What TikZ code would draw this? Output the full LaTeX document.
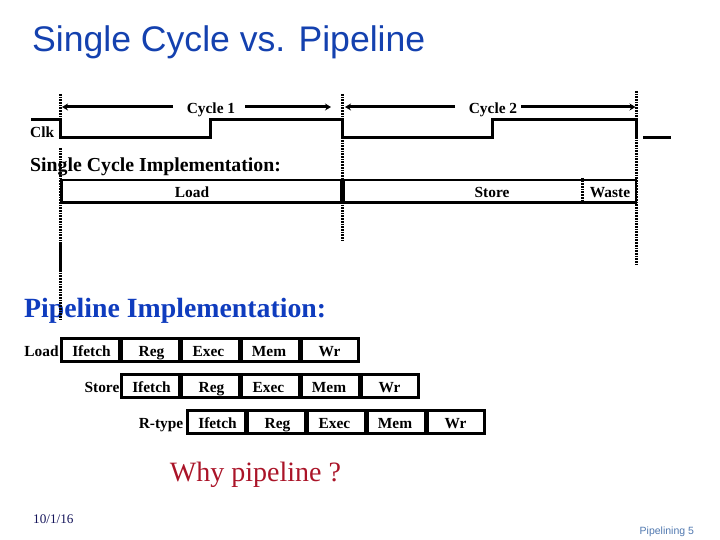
\documentclass[tikz,border=0pt]{standalone}
\usepackage{fontspec}
\setmainfont{Liberation Serif}
\newfontfamily\sansf{Liberation Sans}
\usetikzlibrary{arrows.meta}
\definecolor{titleblue}{RGB}{20,65,175}
\definecolor{pipeblue}{RGB}{15,60,190}
\definecolor{whyred}{RGB}{170,20,40}
\definecolor{footblue}{RGB}{80,120,175}
\definecolor{datenavy}{RGB}{20,20,90}
\tikzset{
  x=1bp,y=-1bp,
  lbl/.style={inner sep=0pt,anchor=base,font=\fontsize{15.4bp}{18bp}\selectfont\bfseries},
  sig/.style={line width=2.7bp,line join=miter},
  vdash/.style={line width=2.8bp,dash pattern=on 1.7bp off 1bp},
  cyc/.style={line width=3bp,-{Stealth[length=6bp,width=7bp]}},
  frame/.style={line width=3.4bp,draw,fill=none},
  divl/.style={line width=4.5bp},
}
\begin{document}
\begin{tikzpicture}
\useasboundingbox (0,0) rectangle (720,540);
% title
\node[inner sep=0pt,anchor=base west,text=titleblue,font=\sansf\fontsize{35.6bp}{38bp}\selectfont] (title) at (32,52) {Single Cycle vs. Pipeline};
% cycle labels
\node[lbl] (c1) at (211,114) {Cycle 1};
\node[lbl] (c2) at (493,114) {Cycle 2};
\coordinate (a1) at (62,107); \coordinate (a2) at (331,107);
\coordinate (a3) at (345,107); \coordinate (a4) at (635.5,107);
\coordinate (b1) at (173,107); \coordinate (b2) at (245,107);
\coordinate (b3) at (455,107); \coordinate (b4) at (521,107);
\draw[cyc] (b1) -- (a1);
\draw[cyc] (b2) -- (a2);
\draw[cyc] (b3) -- (a3);
\draw[cyc] (b4) -- (a4);
% clock
\node[lbl,anchor=base west] (clk) at (30,138) {Clk};
\coordinate (k0) at (31,119.5);
\draw[sig] (k0) -- (60.5,119.5) -- (60.5,137.3) -- (210.5,137.3) -- (210.5,119.5) -- (342.5,119.5) -- (342.5,137.3) -- (492.5,137.3) -- (492.5,119.5) -- (636.5,119.5) -- (636.5,137.3);
\coordinate (k1) at (643,137.5); \coordinate (k2) at (671,137.5);
\draw[sig] (k1)--(k2);
% single cycle
\node[inner sep=0pt,anchor=base west,font=\fontsize{19.8bp}{22bp}\selectfont\bfseries] (sc) at (30,172) {Single Cycle Implementation:};
\draw[line width=2.7bp] (61.5,180) rectangle (636,202.3);
\draw[line width=4.5bp] (342.5,180)--(342.5,202);
\draw[vdash] (582.5,178)--(582.5,204);
\node[lbl] (load) at (192,198) {Load};
\node[lbl] (store) at (492,198) {Store};
\node[lbl] (waste) at (610,198) {Waste};
% pipeline
\node[inner sep=0pt,anchor=base west,text=pipeblue,font=\fontsize{27.8bp}{30bp}\selectfont\bfseries] (pi) at (24,317) {Pipeline Implementation:};
\foreach \row/\xo/\yo/\nm/\nx in {1/61.7/338.7/Load/41.5, 2/121.7/374.7/Store/102, 3/187.7/410.7/R-type/161}{
  \draw[frame] (\xo,\yo) rectangle ++(297,22.6);
  \foreach \i in {1,2,3,4}{\draw[divl] (\xo+60*\i-1.2,\yo) -- ++(0,22.6);}
  \node[lbl] (n\row) at (\nx,\yo+17.3) {\nm};
  \node[lbl] (s1\row) at (\xo+29.8,\yo+17.3) {Ifetch};
  \node[lbl] (s2\row) at (\xo+89.8,\yo+17.3) {Reg};
  \node[lbl] (s3\row) at (\xo+146.8,\yo+17.3) {Exec};
  \node[lbl] (s4\row) at (\xo+207.3,\yo+17.3) {Mem};
  \node[lbl] (s5\row) at (\xo+267.8,\yo+17.3) {Wr};
}
\node[inner sep=0pt,anchor=base,text=whyred,font=\fontsize{28bp}{32bp}\selectfont] (why) at (255.5,481) {Why pipeline ?};
\node[inner sep=0pt,anchor=base west,text=datenavy,font=\fontsize{13.2bp}{15bp}\selectfont] (date) at (33,523) {10/1/16};
\node[inner sep=0pt,anchor=base west,text=footblue,font=\sansf\fontsize{10.5bp}{13bp}\selectfont] (foot) at (639.5,534.5) {Pipelining 5};
% guide lines
\coordinate (v1a) at (60.4,94); \coordinate (v1b) at (60.4,138);
\coordinate (v1c) at (60.4,148); \coordinate (v1d) at (60.4,243);
\coordinate (v1e) at (60.4,270); \coordinate (v1f) at (60.4,319);
\coordinate (v2a) at (342.4,94); \coordinate (v2b) at (342.4,240);
\coordinate (v3a) at (636.6,91); \coordinate (v3b) at (636.6,264);
\draw[vdash] (v1a)--(v1b);
\draw[vdash] (v1c)--(v1d);
\draw[line width=2.8bp] (v1d)--(v1e);
\draw[vdash] (v1e)--(v1f);
\draw[vdash] (v2a)--(v2b);
\draw[vdash] (v3a)--(v3b);
\end{tikzpicture}
\end{document}
